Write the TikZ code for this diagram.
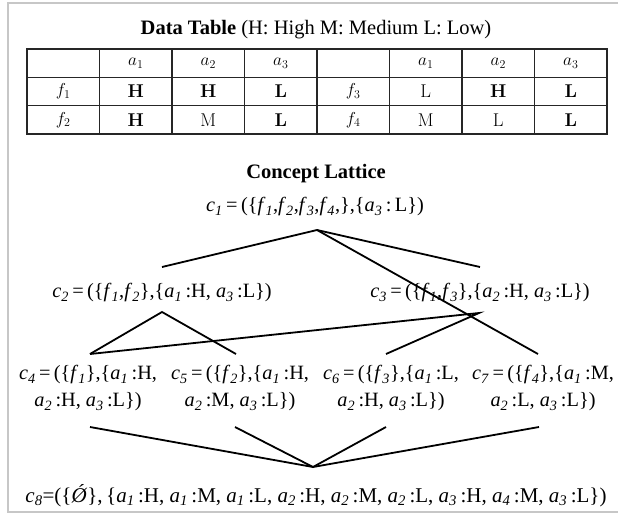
\documentclass[tikz,border=0pt]{standalone}
\usepackage{fontspec}
\newfontfamily\tnr{Liberation Serif}
\newcommand\ix[2]{\textit{#1}\textsubscript{\textit{#2}}}
\tikzset{
  lat/.style={font=\tnr\fontsize{20.3}{27}\selectfont, align=center, inner sep=0pt},
  ttl/.style={font=\tnr\fontsize{20.5}{24}\selectfont, inner sep=0pt},
  edge/.style={line width=1.8pt},
  cell/.style={font=\fontsize{18.5}{22}\selectfont, inner sep=0pt},
  grid/.style={line width=1.3pt, draw=black!85},
  frame/.style={line width=2pt, draw=black!22},
}
\begin{document}
\begin{tikzpicture}[x=1pt,y=-1pt]
\useasboundingbox (0,0) rectangle (618,514);
\draw[frame] (618,3) -- (8,3) -- (8,512) -- (618,512);
% title
\node[ttl] (title) at (316,30) {\textbf{Data Table} (H: High M: Medium L: Low)};
% table grid
\draw[grid] (27,49) rectangle (607,134);
\draw[grid] (27,77.3) -- (607,77.3) (27,105.7) -- (607,105.7);
\foreach \i in {1,...,7} \draw[grid] ({27+72.5*\i},49) -- ({27+72.5*\i},134);
% header
\node[cell] (h1) at (135.75,63) {$a_1$};
\node[cell] (h2) at (208.25,63) {$a_2$};
\node[cell] (h3) at (280.75,63) {$a_3$};
\node[cell] (h5) at (425.75,63) {$a_1$};
\node[cell] (h6) at (498.25,63) {$a_2$};
\node[cell] (h7) at (570.75,63) {$a_3$};
% row 1
\node[cell] (r10) at (63.25,91.5) {$f_1$};
\node[cell] (r11) at (135.75,91.5) {\textbf{H}};
\node[cell] (r12) at (208.25,91.5) {\textbf{H}};
\node[cell] (r13) at (280.75,91.5) {\textbf{L}};
\node[cell] (r14) at (353.25,91.5) {$f_3$};
\node[cell] (r15) at (425.75,91.5) {L};
\node[cell] (r16) at (498.25,91.5) {\textbf{H}};
\node[cell] (r17) at (570.75,91.5) {\textbf{L}};
% row 2
\node[cell] (r20) at (63.25,120) {$f_2$};
\node[cell] (r21) at (135.75,120) {\textbf{H}};
\node[cell] (r22) at (208.25,120) {M};
\node[cell] (r23) at (280.75,120) {\textbf{L}};
\node[cell] (r24) at (353.25,120) {$f_4$};
\node[cell] (r25) at (425.75,120) {M};
\node[cell] (r26) at (498.25,120) {L};
\node[cell] (r27) at (570.75,120) {\textbf{L}};
% lattice title
\node[ttl] (lt) at (316,174) {\textbf{Concept Lattice}};
% concepts
\node[lat] (c1) at (315,207) {\ix{c}{1}\,=\,(\{\ix{f}{1},\ix{f}{2},\ix{f}{3},\ix{f}{4},\},\{\ix{a}{3}\,:\,L\})};
\node[lat] (c2) at (162,293) {\ix{c}{2}\,=\,(\{\ix{f}{1},\ix{f}{2}\},\{\ix{a}{1}\,:H, \ix{a}{3}\,:L\})};
\node[lat] (c3) at (480,293) {\ix{c}{3}\,=\,(\{\ix{f}{1},\ix{f}{3}\},\{\ix{a}{2}\,:H, \ix{a}{3}\,:L\})};
\node[lat] (c4) at (88,388.5) {\ix{c}{4}\,=\,(\{\ix{f}{1}\},\{\ix{a}{1}\,:H,\\ \ix{a}{2}\,:H, \ix{a}{3}\,:L\})};
\node[lat] (c5) at (240,388.5) {\ix{c}{5}\,=\,(\{\ix{f}{2}\},\{\ix{a}{1}\,:H,\\ \ix{a}{2}\,:M, \ix{a}{3}\,:L\})};
\node[lat] (c6) at (391,388.5) {\ix{c}{6}\,=\,(\{\ix{f}{3}\},\{\ix{a}{1}\,:L,\\ \ix{a}{2}\,:H, \ix{a}{3}\,:L\})};
\node[lat] (c7) at (543,388.5) {\ix{c}{7}\,=\,(\{\ix{f}{4}\},\{\ix{a}{1}\,:M,\\ \ix{a}{2}\,:L, \ix{a}{3}\,:L\})};
\node[lat, font=\tnr\fontsize{21}{24}\selectfont] (c8) at (316,496) {\ix{c}{8}=(\{\textit{Ǿ}\},\,\{\ix{a}{1}\,:H, \ix{a}{1}\,:M, \ix{a}{1}\,:L, \ix{a}{2}\,:H, \ix{a}{2}\,:M, \ix{a}{2}\,:L, \ix{a}{3}\,:H, \ix{a}{4}\,:M, \ix{a}{3}\,:L\})};
% connector anchors
\coordinate (c1b) at (317,230);
\coordinate (c2t) at (162,267);
\coordinate (c3t) at (480,267);
\coordinate (c2b) at (162,312);
\coordinate (c3b) at (479,313);
\coordinate (c4t) at (90,354);
\coordinate (c5t) at (236,354);
\coordinate (c6t) at (386,354);
\coordinate (c7t) at (538,354);
\coordinate (c4b) at (90,427);
\coordinate (c5b) at (235,427);
\coordinate (c6b) at (386,427);
\coordinate (c7b) at (539,427);
\coordinate (c8t) at (313,467);
\draw[edge] (c2t) -- (c1b) -- (c3t);
\draw[edge] (c1b) -- (c7t);
\draw[edge] (c4t) -- (c2b) -- (c5t);
\draw[edge] (c4t) -- (c3b) -- (c6t);
\draw[edge] (c4b) -- (c8t) -- (c7b);
\draw[edge] (c5b) -- (c8t) -- (c6b);
\end{tikzpicture}
\end{document}
